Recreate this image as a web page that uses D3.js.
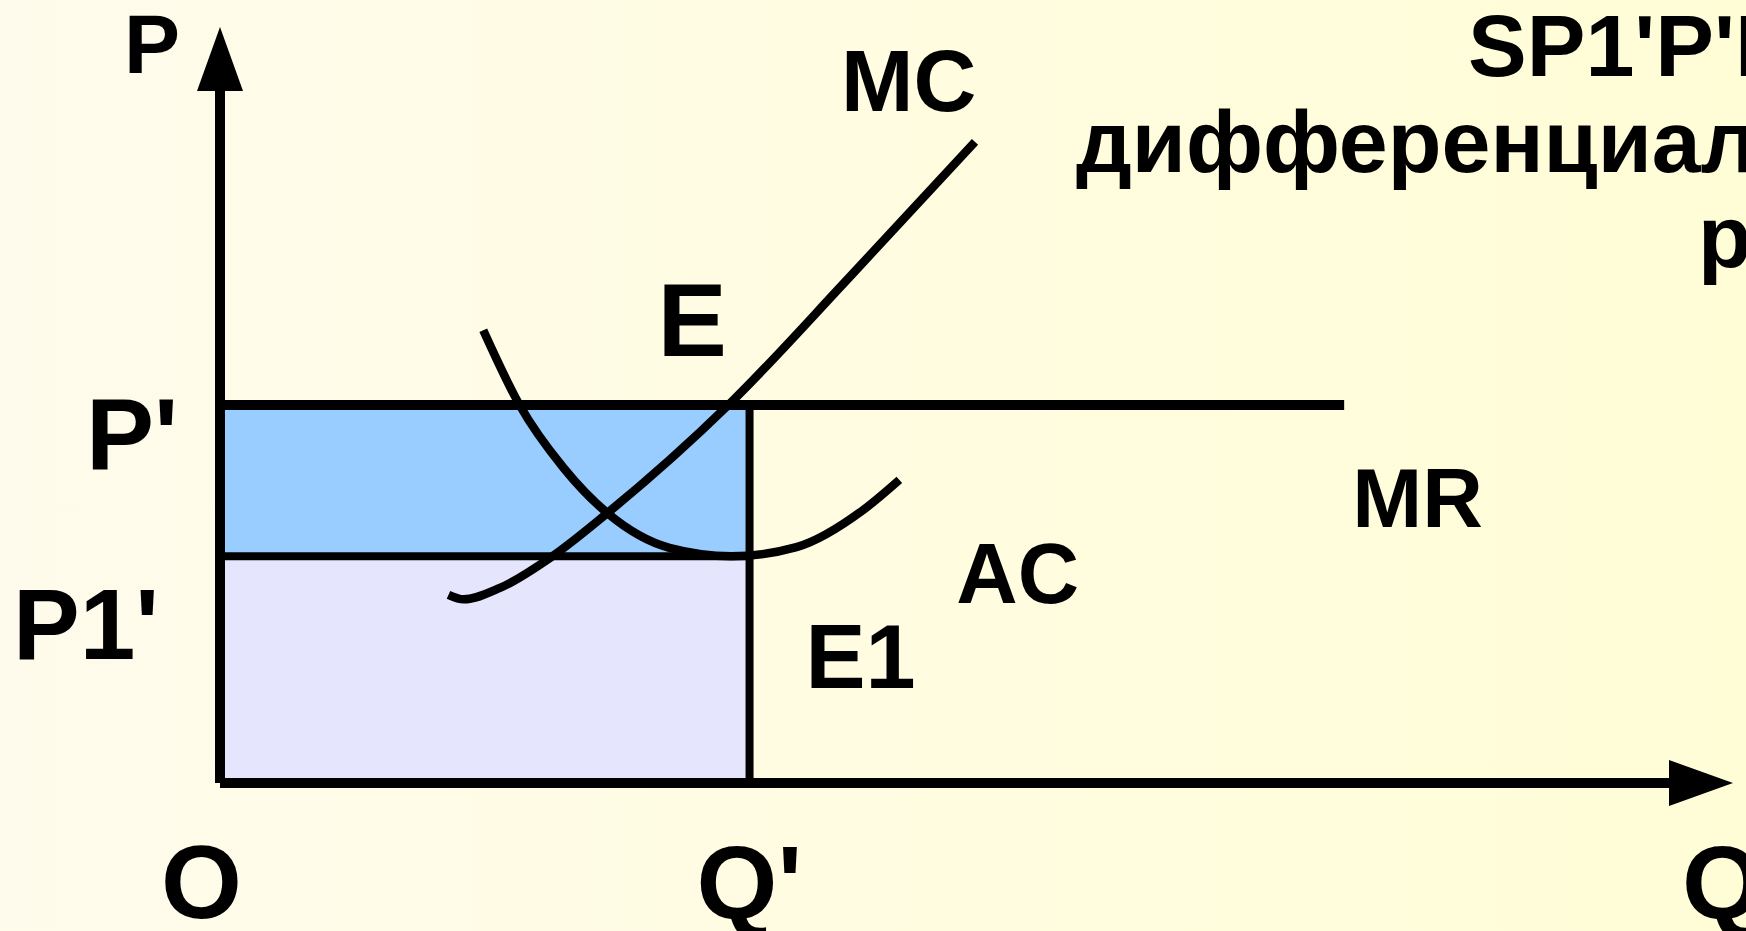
<!DOCTYPE html>
<meta charset="utf-8">
<html>
    <head>
        <script src="https://d3js.org/d3.v7.min.js"></script>
    </head>
    <style>
        html, body { margin: 0; padding: 0; overflow: hidden; }
        svg { display: block; }
    </style>
    <body>

        <div id="chart"></div>

        <script>

            // price levels on the vertical axis
            var priceLabels = ["P'", "P1'"];
            var priceValues = [50, 30];

            // quantity marks on the horizontal axis
            var qtyLabels = ["O", "Q'"];
            var qtyValues = [0, 35];

            // MR is flat at P'
            var mrQ = [0, 74.3];
            var mrP = [50, 50];

            // MC curve
            var mcQ = [15.1, 16.1, 18.5, 21.9, 25.6, 33.6, 41.6, 49.9];
            var mcP = [24.9, 24.3, 25.8, 29.9, 35.7, 50.0, 66.9, 84.8];

            // AC curve
            var acQ = [17.4, 19.8, 22.7, 25.6, 29.7, 33.8, 38.1, 42.5, 44.9];
            var acP = [59.9, 50.0, 41.7, 35.7, 31.1, 30.0, 31.2, 36.1, 40.1];

            var titleLines = ["SP1'P'EE1 -", "дифференциальная", "рента"];

            var width = 1746, height = 931;

            var x = d3.scaleLinear().domain([0, 100]).range([220, 1733]);
            var y = d3.scaleLinear().domain([0, 100]).range([783, 27]);

            var svg = d3.select("#chart")
                .append("svg")
                .attr("width", width)
                .attr("height", height)
                .style("font-family", "'Liberation Sans', Arial, sans-serif")
                .style("font-weight", "bold");

            // background
            var grad = svg.append("defs").append("linearGradient")
                .attr("id", "bg")
                .attr("x1", 0).attr("x2", 1).attr("y1", 0).attr("y2", 0);
            grad.append("stop").attr("offset", 0).attr("stop-color", "#fffbec");
            grad.append("stop").attr("offset", 1).attr("stop-color", "#fffdd6");
            svg.append("rect").attr("width", width).attr("height", height).attr("fill", "url(#bg)");

            var pHigh = priceValues[0], pLow = priceValues[1], qStar = qtyValues[1];

            // shaded areas
            svg.append("rect")
                .attr("x", x(0)).attr("y", y(pLow))
                .attr("width", x(qStar) - x(0)).attr("height", y(0) - y(pLow))
                .attr("fill", "#e5e5fe");
            svg.append("rect")
                .attr("x", x(0)).attr("y", y(pHigh))
                .attr("width", x(qStar) - x(0)).attr("height", y(pLow) - y(pHigh))
                .attr("fill", "#99ccff");

            // axes
            var arrowLen = 64, arrowHalf = 23;
            svg.append("line")
                .attr("x1", x(0)).attr("y1", y(0))
                .attr("x2", x(0)).attr("y2", y(100) + arrowLen)
                .attr("stroke", "#000").attr("stroke-width", 10);
            svg.append("line")
                .attr("x1", x(0)).attr("y1", y(0))
                .attr("x2", x(100) - arrowLen).attr("y2", y(0))
                .attr("stroke", "#000").attr("stroke-width", 10);
            svg.append("polygon")
                .attr("points", [[x(0), y(100)], [x(0) - arrowHalf, y(100) + arrowLen], [x(0) + arrowHalf, y(100) + arrowLen]].join(" "))
                .attr("fill", "#000");
            svg.append("polygon")
                .attr("points", [[x(100), y(0)], [x(100) - arrowLen, y(0) - arrowHalf], [x(100) - arrowLen, y(0) + arrowHalf]].join(" "))
                .attr("fill", "#000");

            // MR line
            svg.append("line")
                .attr("x1", x(mrQ[0])).attr("y1", y(mrP[0]))
                .attr("x2", x(mrQ[1])).attr("y2", y(mrP[1]))
                .attr("stroke", "#000").attr("stroke-width", 10);

            // P1' line and Q' line
            svg.append("line")
                .attr("x1", x(0)).attr("y1", y(pLow))
                .attr("x2", x(qStar)).attr("y2", y(pLow))
                .attr("stroke", "#000").attr("stroke-width", 8);
            svg.append("line")
                .attr("x1", x(qStar)).attr("y1", y(pHigh))
                .attr("x2", x(qStar)).attr("y2", y(0))
                .attr("stroke", "#000").attr("stroke-width", 8);

            // curves
            var line = d3.line()
                .x(d => x(d[0]))
                .y(d => y(d[1]))
                .curve(d3.curveMonotoneX);

            var mcData = d3.zip(mcQ, mcP);
            var acData = d3.zip(acQ, acP);

            svg.append("path")
                .attr("d", line(acData))
                .attr("fill", "none").attr("stroke", "#000").attr("stroke-width", 8.5);
            svg.append("path")
                .attr("d", line(mcData))
                .attr("fill", "none").attr("stroke", "#000").attr("stroke-width", 8.5);

            // labels: anchor in data units, offset in pixels
            var mcEnd = mcData[mcData.length - 1];
            var acEnd = acData[acData.length - 1];
            var labels = [
                { text: "P", q: 0, p: 100, dx: -96, dy: 46, size: 84 },
                { text: "Q", q: 100, p: 0, dx: -51, dy: 136, size: 104 },
                { text: qtyLabels[0], q: qtyValues[0], p: 0, dx: -59, dy: 135, size: 104 },
                { text: qtyLabels[1], q: qtyValues[1], p: 0, dx: -53, dy: 136, size: 104 },
                { text: priceLabels[0], q: 0, p: priceValues[0], dx: -134, dy: 65, size: 102 },
                { text: priceLabels[1], q: 0, p: priceValues[1], dx: -207, dy: 103, size: 100 },
                { text: "E", q: qStar, p: pHigh, dx: -92, dy: -49, size: 104 },
                { text: "E1", q: qStar, p: pLow, dx: 56, dy: 132, size: 90 },
                { text: "MC", q: mcEnd[0], p: mcEnd[1], dx: -134, dy: -31, size: 87 },
                { text: "AC", q: acEnd[0], p: acEnd[1], dx: 57, dy: 123, size: 85 },
                { text: "MR", q: mrQ[1], p: mrP[1], dx: 8, dy: 122, size: 84 }
            ];

            svg.append("g")
                .selectAll("text")
                .data(labels)
                .join("text")
                .attr("x", d => x(d.q) + d.dx)
                .attr("y", d => y(d.p) + d.dy)
                .attr("font-size", d => d.size)
                .attr("fill", "#000")
                .text(d => d.text);

            // title, runs off the right edge
            var titleX = [1468, 1076, 1698];
            var titleY = [76, 172, 267];
            svg.append("g")
                .selectAll("text")
                .data(titleLines)
                .join("text")
                .attr("x", (d, i) => titleX[i])
                .attr("y", (d, i) => titleY[i])
                .attr("font-size", 88)
                .attr("fill", "#000")
                .text(d => d);

        </script>
    </body>
</html>
